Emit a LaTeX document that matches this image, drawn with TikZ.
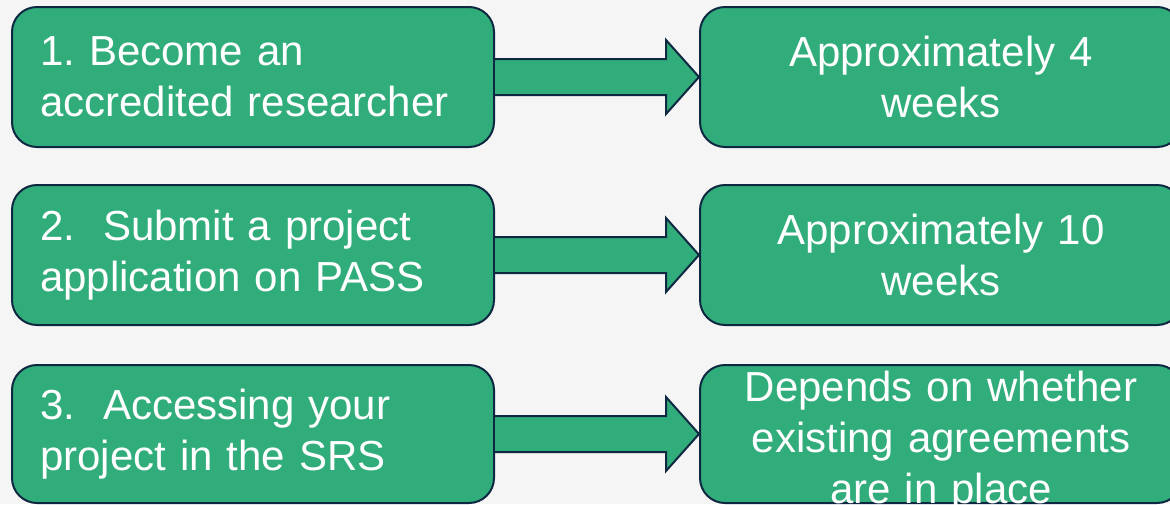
\documentclass[tikz,border=0pt]{standalone}
\usepackage{fontspec}
\setmainfont{Liberation Sans}
\frenchspacing
\definecolor{bg}{HTML}{F5F5F5}
\definecolor{boxgreen}{HTML}{31AD7B}
\definecolor{navy}{HTML}{0E2841}
\begin{document}
\begin{tikzpicture}[x=1pt,y=1pt,
  stepbox/.style={draw=navy,line width=2pt,fill=boxgreen,rounded corners=25pt,
    minimum height=140pt,text=white,font=\fontsize{42}{51}\selectfont\frenchspacing,inner sep=0pt},
  leftbox/.style={stepbox,minimum width=482pt,text width=426pt,align=left},
  rightbox/.style={stepbox,minimum width=482pt,text width=440pt,align=center},
  boxtext/.style={text=white,font=\fontsize{42}{51}\selectfont\frenchspacing,inner sep=0pt,text width=440pt,align=center},
  fatarrow/.style={draw=navy,line width=2pt,fill=boxgreen,line join=miter}]
\fill[bg] (0,0) rectangle (1170,-504);
\useasboundingbox (0,0) rectangle (1170,-504);
\node[leftbox] (l1) at (253,-77) {1. Become an\\accredited researcher};
\node[leftbox] (l2) at (253,-255) {2.\ \ Submit a project\\application on PASS};
\node[leftbox,minimum height=138pt] (l3) at (253,-434) {3.\ \ Accessing your\\project in the SRS};
\node[rightbox] (r1) at (941,-77) {Approximately 4\\weeks};
\node[rightbox] (r2) at (941,-255) {Approximately 10\\weeks};
\node[rightbox,minimum height=138pt] (r3) at (941,-434) {};
\node[boxtext] (r3t) at ([yshift=-8pt]r3.center) {Depends on whether\\existing agreements\\are in place};
\foreach \a/\b in {l1/r1,l2/r2,l3/r3}{
  \draw[fatarrow] ([yshift=18pt]\a.east) -- ([xshift=-33pt,yshift=18pt]\b.west)
    -- ([xshift=-33pt,yshift=37pt]\b.west) -- (\b.west)
    -- ([xshift=-33pt,yshift=-37pt]\b.west) -- ([xshift=-33pt,yshift=-18pt]\b.west)
    -- ([yshift=-18pt]\a.east);
}
\end{tikzpicture}
\end{document}
